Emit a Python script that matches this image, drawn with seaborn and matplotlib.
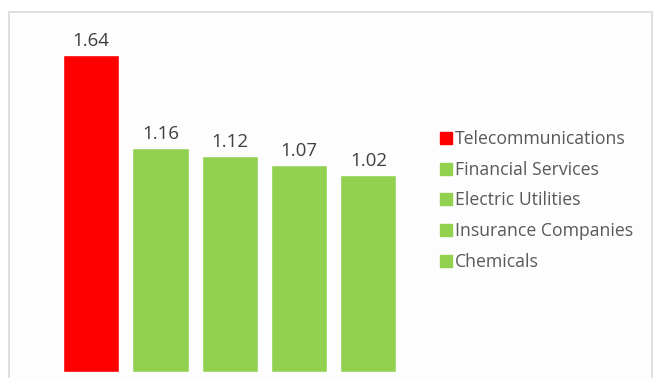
import matplotlib
matplotlib.use("Agg")
import matplotlib.pyplot as plt
import seaborn as sns
import pandas as pd
from matplotlib.lines import Line2D
from matplotlib.patches import Rectangle

categories = ["Telecommunications", "Financial Services", "Electric Utilities",
              "Insurance Companies", "Chemicals"]
values = [1.64, 1.16, 1.12, 1.07, 1.02]
colors = ["#ff0000", "#92d050", "#92d050", "#92d050", "#92d050"]
labels = ["1.64", "1.16", "1.12", "1.07", "1.02"]

sns.set_theme(style="white")
plt.rcParams["font.family"] = ["Open Sans", "DejaVu Sans"]

W, H = 653, 378
fig = plt.figure(figsize=(W / 100, H / 100), dpi=100)
fig.patch.set_facecolor("white")

# frame
fig.patches.append(Rectangle((9 / W, -0.05), (652 - 9) / W, (H - 12) / H + 0.05,
                             transform=fig.transFigure, facecolor="#fdfdfd",
                             edgecolor="#d9d9d9", linewidth=1.2, zorder=-5))

L, R, T, B = 40, 420, 20, 372
ax = fig.add_axes([L / W, (H - B) / H, (R - L) / W, (B - T) / H])
ax.set_zorder(2)
ax.patch.set_alpha(0)

df = pd.DataFrame({"cat": categories, "val": values})
sns.barplot(data=df, x="cat", y="val", hue="cat", palette=colors,
            order=categories, hue_order=categories, legend=False,
            width=0.81, saturation=1, ax=ax)

c0, pitch = 91.2, 69.3
ax.set_xlim((L - c0) / pitch, (R - c0) / pitch)
ppu = (B - 55) / 1.64
ax.set_ylim(0, (B - T) / ppu)
ax.axis("off")

for i, (v, t) in enumerate(zip(values, labels)):
    ax.text(i, v + 5 / ppu, t, ha="center", va="bottom", fontsize=13.5,
            color="#404040")

handles = [Line2D([0], [0], marker="s", color="none", markerfacecolor=c,
                  markeredgecolor=c, markersize=8) for c in colors]
leg = fig.legend(handles, categories, loc="upper left",
                 bbox_to_anchor=(432 / W, 1 - 123 / H), frameon=False,
                 fontsize=12.7, labelcolor="#595959", handlelength=0.8,
                 handletextpad=0.1, labelspacing=0.72, borderaxespad=0)
leg.set_zorder(3)

fig.savefig("out.png", dpi=100)
